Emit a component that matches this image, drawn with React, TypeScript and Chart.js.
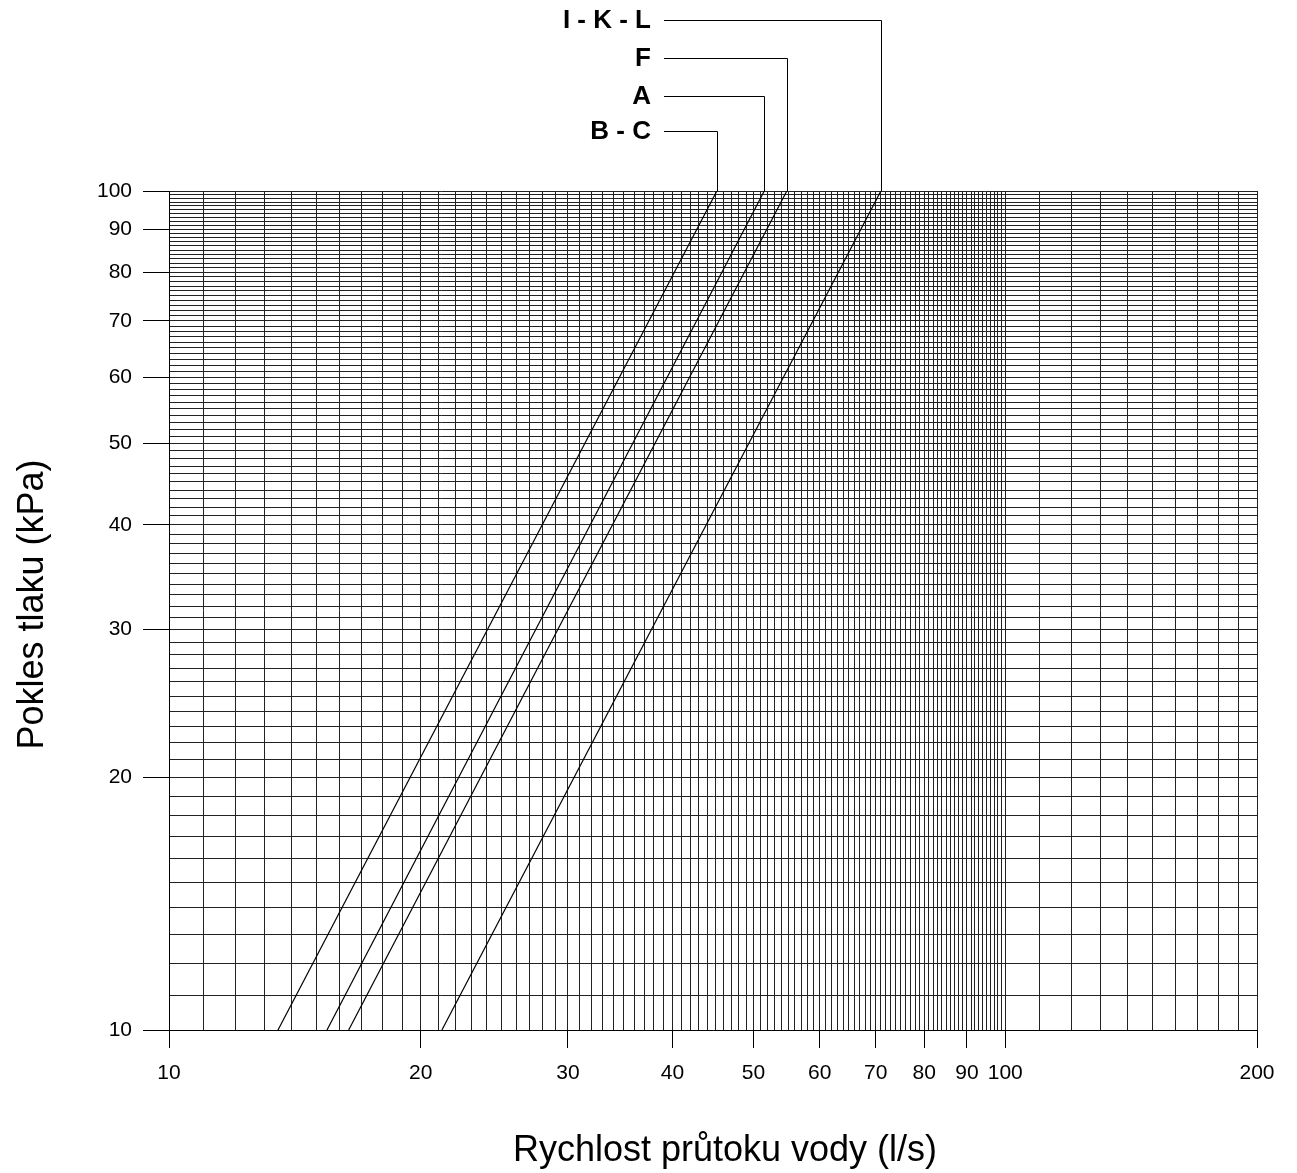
import React, { useEffect, useRef } from 'react';
import { Chart, registerables } from 'chart.js';

Chart.register(...registerables);

// ---- data ----
const SERIES_NAMES = ['B - C', 'A', 'F', 'I - K - L'];
const FLOW_AT_10KPA = [13.5, 15.45, 16.4, 21.2];
const FLOW_AT_100KPA = [45.2, 51.5, 54.8, 71.0];
const DROP_LOW = [10, 10, 10, 10];
const DROP_HIGH = [100, 100, 100, 100];

const X_TICK_LABELS = [10, 20, 30, 40, 50, 60, 70, 80, 90, 100, 200];
const Y_TICK_LABELS = [10, 20, 30, 40, 50, 60, 70, 80, 90, 100];

const X_TITLE = 'Rychlost průtoku vody (l/s)';
const Y_TITLE = 'Pokles tlaku (kPa)';

// grid line positions (every unit 10..100, every ten 100..200)
const X_GRID: number[] = [];
for (let v = 10; v <= 100; v++) X_GRID.push(v);
for (let v = 110; v <= 200; v += 10) X_GRID.push(v);
const Y_GRID: number[] = [];
for (let v = 10; v <= 100; v++) Y_GRID.push(v);

// ---- layout / style ----
const W = 1297;
const H = 1173;
const FONT = '"Liberation Sans", Arial, Helvetica, sans-serif';
const LABEL_ROW_Y = [131, 96, 58, 20]; // rows for B-C, A, F, I-K-L
const LABEL_RIGHT = 651;
const LEADER_START = 664;

const annotate = {
  id: 'annotate',
  afterDraw(chart: any) {
    const { ctx, chartArea, scales } = chart;
    const xs = scales.x;
    ctx.save();
    ctx.strokeStyle = '#000';
    ctx.lineWidth = 1;
    ctx.fillStyle = '#000';
    ctx.font = `bold 26px ${FONT}`;
    ctx.textAlign = 'right';
    ctx.textBaseline = 'middle';
    SERIES_NAMES.forEach((name, i) => {
      const xv = Math.round(xs.getPixelForValue(FLOW_AT_100KPA[i])) + 0.5;
      const yl = LABEL_ROW_Y[i] + 0.5;
      ctx.beginPath();
      ctx.moveTo(LEADER_START, yl);
      ctx.lineTo(xv, yl);
      ctx.lineTo(xv, chartArea.top);
      ctx.stroke();
      ctx.fillText(name, LABEL_RIGHT, LABEL_ROW_Y[i] + 1);
    });

    // axis titles
    ctx.font = `36px ${FONT}`;
    ctx.textAlign = 'center';
    ctx.textBaseline = 'alphabetic';
    ctx.fillText(X_TITLE, (chartArea.left + chartArea.right) / 2 + 12, 1161);

    ctx.translate(43, (chartArea.top + chartArea.bottom) / 2 - 6);
    ctx.rotate(-Math.PI / 2);
    ctx.fillText(Y_TITLE, 0, 0);
    ctx.restore();
  },
};

export default function App() {
  const ref = useRef<HTMLCanvasElement>(null);

  useEffect(() => {
    document.body.style.margin = '0';
    const canvas = ref.current!;
    const datasets = SERIES_NAMES.map((name, i) => ({
      label: name,
      data: [
        { x: FLOW_AT_10KPA[i], y: DROP_LOW[i] },
        { x: FLOW_AT_100KPA[i], y: DROP_HIGH[i] },
      ],
      borderColor: '#000',
      borderWidth: 1.2,
      pointRadius: 0,
      fill: false,
      tension: 0,
    }));

    const tickFont = { family: FONT, size: 21 };

    const chart = new Chart(canvas, {
      type: 'line',
      data: { datasets },
      plugins: [annotate],
      options: {
        responsive: false,
        animation: false,
        layout: { padding: { top: 191, right: 40, left: 0, bottom: 0 } },
        plugins: {
          legend: { display: false },
          tooltip: { enabled: false },
          title: { display: false },
        },
        scales: {
          x: {
            type: 'logarithmic',
            min: 10,
            max: 200,
            afterBuildTicks: (s: any) => {
              s.ticks = X_GRID.map((v) => ({ value: v }));
            },
            afterFit: (s: any) => {
              s.height = H - 1030;
            },
            grid: {
              color: '#222',
              lineWidth: 1,
              drawTicks: true,
              tickLength: 18,
              tickWidth: 1,
              tickColor: (c: any) =>
                c.tick && X_TICK_LABELS.includes(c.tick.value) ? '#000' : 'rgba(0,0,0,0)',
            },
            border: { color: '#000', width: 1 },
            ticks: {
              autoSkip: false,
              maxRotation: 0,
              minRotation: 0,
              padding: 13,
              color: '#000',
              font: tickFont,
              callback: (v: any) => (X_TICK_LABELS.includes(Number(v)) ? String(v) : ''),
            },
          },
          y: {
            type: 'logarithmic',
            min: 10,
            max: 100,
            afterBuildTicks: (s: any) => {
              s.ticks = Y_GRID.map((v) => ({ value: v }));
            },
            afterFit: (s: any) => {
              s.width = 169;
            },
            grid: {
              color: '#222',
              lineWidth: 1,
              drawTicks: true,
              tickLength: 26,
              tickWidth: 1,
              tickColor: (c: any) =>
                c.tick && Y_TICK_LABELS.includes(c.tick.value) ? '#000' : 'rgba(0,0,0,0)',
            },
            border: { color: '#000', width: 1 },
            ticks: {
              autoSkip: false,
              padding: 11,
              color: '#000',
              font: tickFont,
              callback: (v: any) => (Y_TICK_LABELS.includes(Number(v)) ? String(v) : ''),
            },
          },
        },
      },
    });
    return () => chart.destroy();
  }, []);

  return (
    <div style={{ width: W, height: H, background: '#fff' }}>
      <canvas ref={ref} width={W} height={H} style={{ display: 'block', width: W, height: H }} />
    </div>
  );
}
